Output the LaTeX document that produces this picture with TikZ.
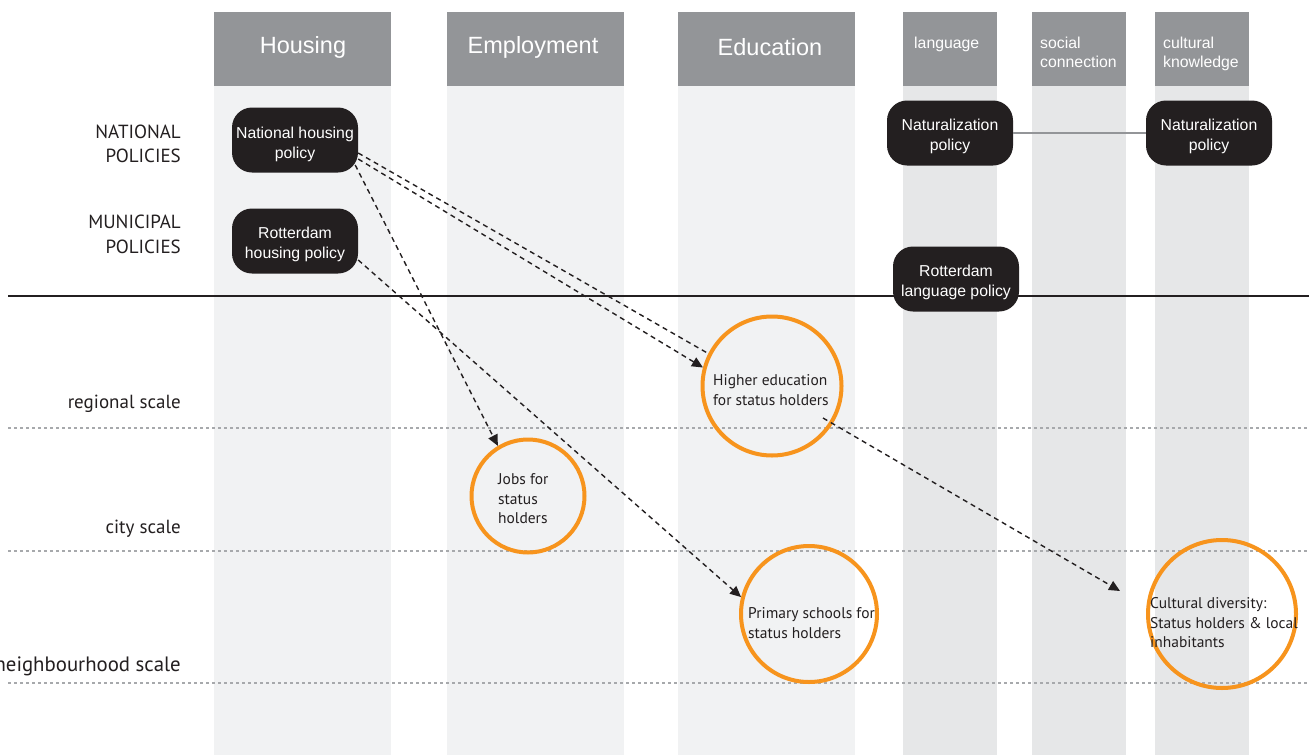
\documentclass[tikz,border=0pt]{standalone}
\usepackage{fontspec}
\setmainfont{Liberation Sans}
\newfontfamily\myr{PT Sans}
\usetikzlibrary{arrows.meta,calc}
\definecolor{hdr}{HTML}{939598}
\definecolor{colA}{HTML}{F1F2F3}
\definecolor{colB}{HTML}{E6E7E8}
\definecolor{boxk}{HTML}{231F20}
\definecolor{orng}{HTML}{F7941D}
\definecolor{dotg}{HTML}{A7A9AC}
\newcommand\boxstrut{\rule{0pt}{17.5pt}}
\newcommand\boxstrutlow{\rule{0pt}{21pt}}
\tikzset{
  pbox/.style={fill=boxk, text=white, rounded corners=20pt, minimum width=126pt, minimum height=65pt, align=center, inner sep=0pt, font=\fontsize{15.8}{20}\selectfont},
  ring/.style={circle, draw=orng, line width=4pt, inner sep=0pt},
  ringtext/.style={anchor=west, align=left, inner sep=0pt, text=boxk, font=\myr\fontsize{15.5}{19.5}\selectfont},
  sidelbl/.style={align=right, inner sep=0pt, text=boxk, font=\myr\fontsize{19}{24.5}\selectfont},
  bighdr/.style={text=white, inner sep=0pt, font=\fontsize{23.5}{28}\selectfont},
  smallhdr/.style={text=white, inner sep=0pt, anchor=north west, align=left, font=\fontsize{15.8}{19}\selectfont},
  dotline/.style={draw=dotg, line width=1.5pt, dash pattern=on 3pt off 3pt},
  flow/.style={draw=boxk, line width=1.4pt, dash pattern=on 5pt off 4pt},
  flowarrow/.style={flow, -{Triangle[length=11pt,width=10pt]}},
}
\begin{document}
\begin{tikzpicture}[x=1pt,y=-1pt]
\useasboundingbox (0,0) rectangle (1309,755);
\fill[white] (0,0) rectangle (1309,755);
% columns
\foreach \a/\b/\c in {214/391/colA,447/624/colA,678/855/colA,903/997/colB,1032/1126/colB,1155/1249/colB}{
  \fill[\c] (\a,86) rectangle (\b,755);
  \fill[hdr] (\a,12) rectangle (\b,86);
}
\node[bighdr] (hHousing) at (303,47) {Housing};
\node[bighdr] (hEmployment) at (533,47) {Employment};
\node[bighdr] (hEducation) at (770,47) {Education};
\node[smallhdr] (hLanguage) at (914,37) {language};
\node[smallhdr] (hSocial) at (1040,37) {social\\connection};
\node[smallhdr] (hCultural) at (1163,37) {cultural\\knowledge};
% scale lines
\draw[boxk, line width=1.2pt] (8,296) -- (1309,296);
\draw[dotline] (8,428) -- (1309,428);
\draw[dotline] (8,551) -- (1309,551);
\draw[dotline] (8,683) -- (1309,683);
% side labels
\node[sidelbl, anchor=east] (lNat) at (181,144) {NATIONAL\\POLICIES};
\node[sidelbl, anchor=east] (lMun) at (181,234.5) {MUNICIPAL\\POLICIES};
\node[sidelbl, anchor=base east] (lReg) at (181,408) {regional scale};
\node[sidelbl, anchor=base east] (lCity) at (181,533) {city scale};
\node[sidelbl, anchor=base east, font=\myr\fontsize{20.8}{24.5}\selectfont] (lNbh) at (181,671) {neighbourhood scale};
% policy boxes
\node[pbox] (nh) at (295,140) {\boxstrutlow National housing\\policy};
\node[pbox] (rh) at (295,241) {\boxstrut Rotterdam\\housing policy};
\node[pbox] (nat1) at (950,133) {\boxstrut Naturalization\\policy};
\node[pbox] (nat2) at (1209,133) {\boxstrut Naturalization\\policy};
\node[pbox] (rl) at (956,279) {\boxstrut Rotterdam\\language policy};
\draw[hdr, line width=2pt] (nat1) -- (nat2);
% outcome circles
\node[ring, minimum size=139pt] (he) at (772,386) {};
\node[ring, minimum size=113pt] (jobs) at (528,496) {};
\node[ring, minimum size=136pt] (ps) at (809,614) {};
\node[ring, minimum size=148pt] (cd) at (1222,614) {};
\node[ringtext] (heT) at (713,390) {Higher education\\for status holders};
\node[ringtext] (jobsT) at (498,499) {Jobs for\\status\\holders};
\node[ringtext] (psT) at (748,623) {Primary schools for\\status holders};
\node[ringtext] (cdT) at (1150,623) {Cultural diversity:\\Status holders \& local\\inhabitants};
% connectors
\coordinate (cdStart) at ($(he.center)+(51,32)$);
\coordinate (cdEnd) at (1120,591);
\draw[flow] ([yshift=-13pt]nh.east) -- (he.153);
\draw[flowarrow] ([yshift=-19pt]nh.east) -- (he.165);
\draw[flowarrow] ([xshift=-3pt,yshift=-25pt]nh.east) -- (jobs.121);
\draw[flowarrow] ([yshift=-19pt]rh.east) -- (ps.166);
\draw[flowarrow] (cdStart) -- (cdEnd);
\end{tikzpicture}
\end{document}
